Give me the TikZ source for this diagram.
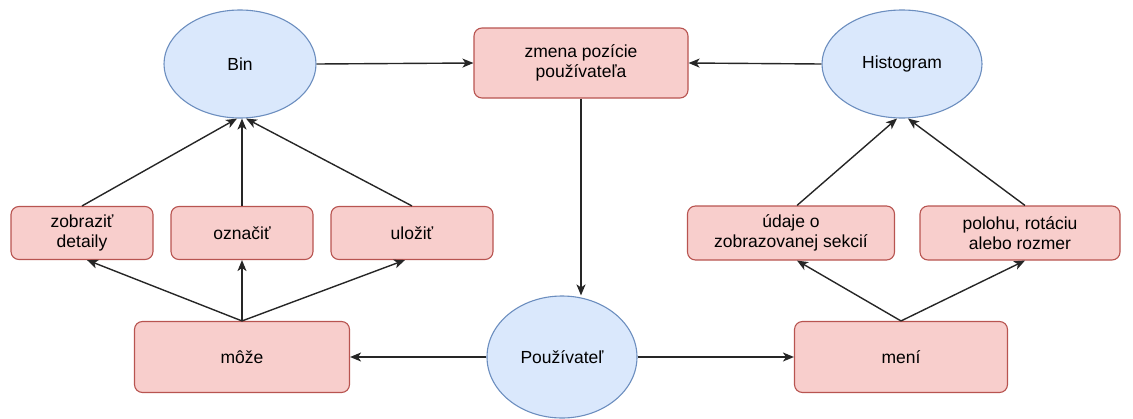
\documentclass[tikz,border=0pt]{standalone}
\usepackage{fontspec}
\setmainfont{Liberation Sans}
\usetikzlibrary{arrows.meta,shapes.geometric}
\definecolor{bfill}{HTML}{DAE8FC}
\definecolor{bdraw}{HTML}{6C8EBF}
\definecolor{rfill}{HTML}{F8CECC}
\definecolor{rdraw}{HTML}{B85450}
\tikzset{
  ell/.style={ellipse, draw=bdraw, fill=bfill, line width=1.1pt, inner sep=0pt},
  rbox/.style={rectangle, rounded corners=8pt, draw=rdraw, fill=rfill, line width=1.1pt, inner sep=0pt, align=center},
  arr/.style={-{Stealth[length=11pt,width=9pt,inset=3pt]}, line width=1.4pt, black!85},
}
\begin{document}
\begin{tikzpicture}[x=1pt,y=-1pt,font=\fontsize{17.5}{20}\selectfont]
\useasboundingbox (0,0) rectangle (1133,418);
\node[ell, minimum width=152pt, minimum height=108pt] (bin) at (240,64) {Bin};
\node[ell, minimum width=160pt, minimum height=108pt] (hist) at (902,64) {Histogram};
\node[ell, minimum width=150pt, minimum height=122pt] (user) at (562,357) {Používateľ};
\node[rbox, minimum width=214pt, minimum height=70pt] (zmena) at (581,63) {zmena pozície\\používateľa};
\node[rbox, minimum width=142pt, minimum height=53pt] (zob) at (82,233) {zobraziť\\detaily};
\node[rbox, minimum width=142pt, minimum height=53pt] (ozn) at (242,233) {označiť};
\node[rbox, minimum width=162pt, minimum height=53pt] (ulo) at (412,233) {uložiť};
\node[rbox, minimum width=215pt, minimum height=71pt] (moze) at (242,357) {môže};
\node[rbox, minimum width=213pt, minimum height=71pt] (meni) at (901,357) {mení};
\node[rbox, minimum width=207pt, minimum height=54pt] (udaje) at (791,233) {údaje o\\zobrazovanej sekcií};
\node[rbox, minimum width=200pt, minimum height=54pt] (poloha) at (1020,233) {polohu, rotáciu\\alebo rozmer};
% top row
\draw[arr] (bin.east) -- (zmena.west);
\draw[arr] (hist.west) -- (zmena.east);
\draw[arr] (zmena.south) -- (user.north -| zmena.south);
% into Bin
\draw[arr] (zob.north) -- ([xshift=-3pt]bin.south);
\draw[arr] (ozn.north) -- (ozn.north |- bin.south);
\draw[arr] (ulo.north) -- ([xshift=6pt]bin.south);
% from moze
\draw[arr] (moze.north) -- ([xshift=5pt]zob.south);
\draw[arr] (moze.north) -- (ozn.south);
\draw[arr] (moze.north) -- ([xshift=-7pt]ulo.south);
% user
\draw[arr] (user.west) -- (moze.east);
\draw[arr] (user.east) -- (meni.west);
% right side
\draw[arr] (meni.north) -- ([xshift=6pt]udaje.south);
\draw[arr] (meni.north) -- ([xshift=5pt]poloha.south);
\draw[arr] ([xshift=6pt]udaje.north) -- ([xshift=-5pt]hist.south);
\draw[arr] ([xshift=5pt]poloha.north) -- ([xshift=6pt]hist.south);
\end{tikzpicture}
\end{document}
